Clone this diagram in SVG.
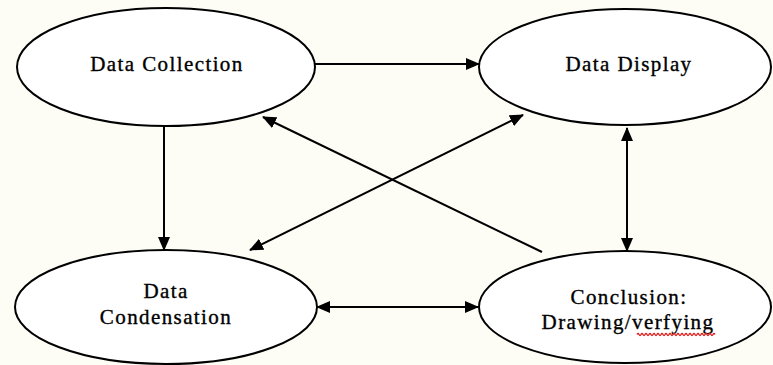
<svg xmlns="http://www.w3.org/2000/svg" width="773" height="365" viewBox="0 0 773 365">
  <style>
    .node ellipse { fill: #ffffff; stroke: #000000; stroke-width: 2; }
    .label { font-family: "Liberation Serif", "Times New Roman", serif; font-size: 21px; fill: #000000; stroke: #000000; stroke-width: 0.35; text-anchor: middle; letter-spacing: 1.4px; }
    .edge { stroke: #000000; stroke-width: 2; fill: none; }
  </style>
  <defs>
    <marker id="ah" markerUnits="userSpaceOnUse" markerWidth="14" markerHeight="12" refX="13" refY="6" orient="auto-start-reverse">
      <path d="M0,0 L14,6 L0,12 Z" fill="#000000"/>
    </marker>
  </defs>
  <rect x="0" y="0" width="773" height="365" fill="#fdfdf6"/>

  <g id="node-data-collection" class="node">
    <ellipse cx="166" cy="67" rx="149" ry="59"/>
    <text class="label" x="167" y="71">Data Collection</text>
  </g>
  <g id="node-data-display" class="node">
    <ellipse cx="625" cy="67" rx="146" ry="58"/>
    <text class="label" x="629" y="71">Data Display</text>
  </g>
  <g id="node-data-condensation" class="node">
    <ellipse cx="166" cy="307" rx="151" ry="57"/>
    <text class="label" x="166" y="298">Data</text>
    <text class="label" x="166" y="324">Condensation</text>
  </g>
  <g id="node-conclusion" class="node">
    <ellipse cx="625" cy="307" rx="146" ry="56"/>
    <text class="label" x="629" y="304">Conclusion:</text>
    <text class="label" x="628" y="329">Drawing/verfying</text>
    <path d="M637,334.5 q1,-2 2,0 t2,0 t2,0 t2,0 t2,0 t2,0 t2,0 t2,0 t2,0 t2,0 t2,0 t2,0 t2,0 t2,0 t2,0 t2,0 t2,0 t2,0 t2,0 t2,0 t2,0 t2,0 t2,0 t2,0 t2,0 t2,0 t2,0 t2,0 t2,0 t2,0 t2,0 t2,0 t2,0 t2,0 t2,0 t2,0 t2,0 t2,0 t2,0" fill="none" stroke="#e02020" stroke-width="1.3"/>
  </g>

  <g id="connectors">
    <line class="edge" x1="315" y1="64" x2="479" y2="64" marker-end="url(#ah)"/>
    <line class="edge" x1="164" y1="126" x2="164" y2="250" marker-end="url(#ah)"/>
    <line class="edge" x1="627" y1="128" x2="627" y2="251" marker-start="url(#ah)" marker-end="url(#ah)"/>
    <line class="edge" x1="317" y1="307" x2="478" y2="307" marker-start="url(#ah)" marker-end="url(#ah)"/>
    <line class="edge" x1="250" y1="250" x2="523" y2="115" marker-start="url(#ah)" marker-end="url(#ah)"/>
    <line class="edge" x1="542" y1="252" x2="263" y2="117" marker-end="url(#ah)"/>
  </g>
</svg>
